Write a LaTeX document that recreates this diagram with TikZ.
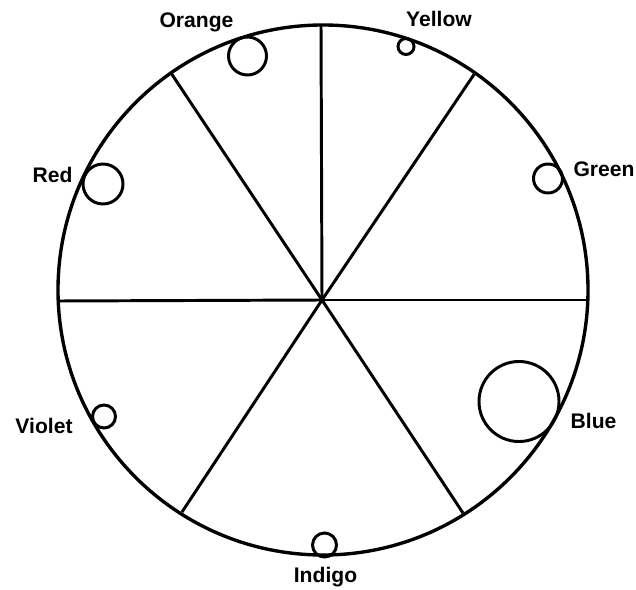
\documentclass[tikz,border=0pt]{standalone}
\usepackage{fontspec}
\setmainfont{Liberation Sans}

\tikzset{
  rim/.style={line width=2.4pt},
  spoke/.style={line width=2.1pt},
  bead/.style={circle, draw, line width=2.1pt, inner sep=0pt},
  hue/.style={font=\bfseries\fontsize{15}{17}\selectfont, inner sep=0pt, anchor=base},
}

\begin{document}
\begin{tikzpicture}[x=0.025cm, y=-0.025cm]
  \useasboundingbox (0,0) rectangle (636,590);

  % wheel and spokes
  \coordinate (ctr) at (323,290);
  \coordinate (hub) at (322,300);
  \draw[rim] (ctr) circle[radius=265];

  \coordinate (top)  at (321,25);
  \coordinate (ur)   at (475,73);
  \coordinate (ul)   at (171,73);
  \coordinate (lft)  at (58,301);
  \coordinate (rgt)  at (589,300);
  \coordinate (ll)   at (182,512);
  \coordinate (lr)   at (463,513);

  \foreach \e in {top,ur,ul,lft,rgt,ll,lr}
    \draw[spoke] (hub) -- (\e);

  % beads
  \node[bead, minimum size=0.95cm]  (orangeb) at (247.5,56)  {};
  \node[bead, minimum size=0.4cm]   (yellowb) at (406,46.5)  {};
  \node[bead, minimum size=0.725cm] (greenb)  at (548,178.5) {};
  \node[bead, minimum size=2cm]     (blueb)   at (519,401.5) {};
  \node[bead, minimum size=0.6cm]   (indigob) at (324.5,545) {};
  \node[bead, minimum size=0.575cm] (violetb) at (104,416.5) {};
  \node[bead, minimum size=1cm]     (redb)    at (103,184)   {};

  % names
  \node[hue] (orange) at (196.5,28) {Orange};
  \node[hue] (yellow) at (439,27)   {Yellow};
  \node[hue] (green)  at (604,177)  {Green};
  \node[hue] (blue)   at (593.5,428) {Blue};
  \node[hue] (indigo) at (325.5,582) {Indigo};
  \node[hue] (violet) at (44,433)   {Violet};
  \node[hue] (red)    at (52.5,183) {Red};
\end{tikzpicture}
\end{document}
